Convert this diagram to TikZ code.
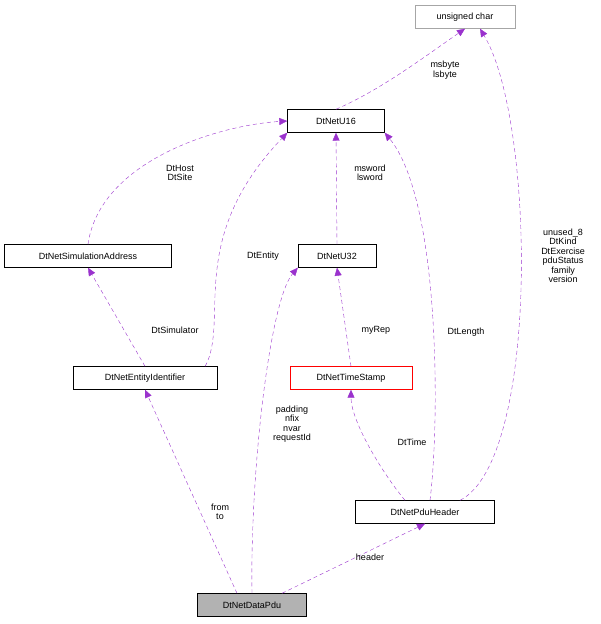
\documentclass[tikz,border=0pt]{standalone}
\usepackage{fontspec}
\setmainfont{Liberation Sans}
\usetikzlibrary{arrows.meta}
\definecolor{ep}{HTML}{9A32CD}
\begin{document}
\begin{tikzpicture}[x=1pt,y=-1pt,
  box/.style={draw=black,fill=white,inner sep=0pt,minimum height=23pt,font=\fontsize{9}{10.5}\selectfont},
  ed/.style={draw=ep,dashed,dash pattern=on 4pt off 3pt,-{Triangle[length=8pt,width=7pt]},fill=none},
  lb/.style={font=\fontsize{9}{9.5}\selectfont,align=center,inner sep=1pt}]
\useasboundingbox (0,0) rectangle (601,624);
\node[box,draw=gray!70,minimum width=100pt] (uc) at (465,17) {unsigned char};
\node[box,minimum width=97pt] (u16) at (336,121) {DtNetU16};
\node[box,minimum width=167pt] (sa) at (88,256) {DtNetSimulationAddress};
\node[box,minimum width=78pt] (u32) at (337,256) {DtNetU32};
\node[box,minimum width=144pt] (ei) at (145,378) {DtNetEntityIdentifier};
\node[box,draw=red,minimum width=122pt] (ts) at (351,378) {DtNetTimeStamp};
\node[box,minimum width=139pt] (ph) at (425,512) {DtNetPduHeader};
\node[box,fill=gray!60,minimum width=109pt] (dp) at (252,605) {DtNetDataPdu};

\draw[ed] (u16.north) .. controls (380,90) and (420,60) .. (uc.south);
\node[lb] at (445,70) {msbyte\\lsbyte};
\draw[ed] (sa.north) .. controls (100,160) and (220,125) .. (u16.west);
\node[lb] at (180,173) {DtHost\\DtSite};
\draw[ed] ([xshift=-12pt]ei.north east) .. controls (230,320) and (185,240) .. (u16.south west);
\node[lb] at (263,256) {DtEntity};
\draw[ed] (ei.north) -- (sa.south);
\node[lb] at (175,330) {DtSimulator};
\draw[ed] (u32.north) -- (u16.south);
\node[lb] at (370,173) {msword\\lsword};
\draw[ed] (ts.north) -- (u32.south);
\node[lb] at (376,330) {myRep};
\draw[ed] ([xshift=5pt]ph.north) .. controls (440,420) and (440,200) .. (u16.south east);
\node[lb] at (466,332) {DtLength};
\draw[ed] ([xshift=35pt]ph.north) .. controls (540,460) and (535,120) .. ([xshift=15pt]uc.south);
\node[lb] at (563,256) {unused\_8\\DtKind\\DtExercise\\pduStatus\\family\\version};
\draw[ed] ([xshift=-20pt]ph.north) .. controls (380,470) and (351,420) .. (ts.south);
\node[lb] at (412,442) {DtTime};
\draw[ed] ([xshift=-15pt]dp.north) -- (ei.south);
\node[lb] at (220,512) {from\\to};
\draw[ed] (dp.north) .. controls (250,470) and (270,300) .. (u32.south west);
\node[lb] at (292,424) {padding\\nfix\\nvar\\requestId};
\draw[ed] ([xshift=30pt]dp.north) -- (ph.south);
\node[lb] at (370,557) {header};
\end{tikzpicture}
\end{document}
